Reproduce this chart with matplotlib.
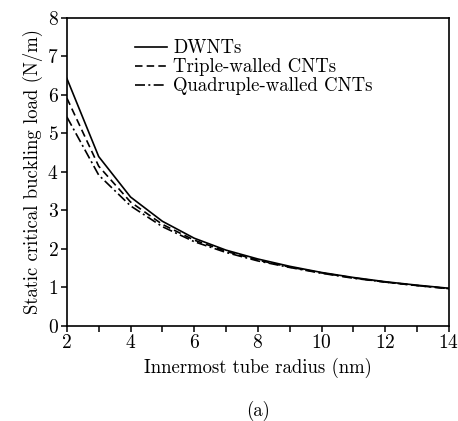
import matplotlib
matplotlib.use("Agg")
import matplotlib.pyplot as plt
from matplotlib.ticker import MultipleLocator

plt.rcParams['font.family'] = ['cmr10', 'DejaVu Serif']
plt.rcParams['mathtext.fontset'] = 'cm'
plt.rcParams['axes.unicode_minus'] = False
plt.rcParams['axes.formatter.use_mathtext'] = True

radius = [2, 3, 4, 5, 6, 7, 8, 9, 10, 11, 12, 13, 14]
dwnt = [6.43, 4.40, 3.35, 2.72, 2.28, 1.97, 1.74, 1.55, 1.39, 1.26, 1.15, 1.06, 0.98]
triple = [5.92, 4.15, 3.22, 2.64, 2.23, 1.94, 1.71, 1.53, 1.38, 1.25, 1.14, 1.05, 0.97]
quad = [5.43, 3.92, 3.12, 2.58, 2.19, 1.91, 1.69, 1.52, 1.37, 1.24, 1.14, 1.05, 0.97]
labels = ["DWNTs", "Triple-walled CNTs", "Quadruple-walled CNTs"]

fig = plt.figure(figsize=(4.58, 4.21), dpi=100)
ax = fig.add_axes([0.146, 0.2257, 0.834, 0.7316])

ax.plot(radius, dwnt, color='black', lw=1.2, linestyle='-', label=labels[0])
ax.plot(radius, triple, color='black', lw=1.2, linestyle=(0, (4.5, 2.5)), label=labels[1])
ax.plot(radius, quad, color='black', lw=1.2, linestyle=(0, (6, 2, 1.2, 2)), label=labels[2])

ax.set_xlim(2, 14)
ax.set_ylim(0, 8)
ax.xaxis.set_major_locator(MultipleLocator(2))
ax.xaxis.set_minor_locator(MultipleLocator(1))
ax.yaxis.set_major_locator(MultipleLocator(1))
ax.tick_params(which='both', direction='out', top=False, right=False,
               labelsize=14, width=1.1, length=4, pad=2)
for s in ax.spines.values():
    s.set_linewidth(1.2)

ax.set_xlabel("Innermost tube radius (nm)", fontsize=13.5, labelpad=4)
ax.set_ylabel("Static critical buckling load (N/m)", fontsize=13.5, labelpad=3)

leg = ax.legend(loc='upper left', bbox_to_anchor=(0.16, 0.955), frameon=False,
                fontsize=13.5, handlelength=1.7, handletextpad=0.3,
                labelspacing=0.05, borderaxespad=0)

fig.text(0.563, 0.024, "(a)", fontsize=13.5, ha='center', va='center')

fig.savefig("out.png", dpi=100)
